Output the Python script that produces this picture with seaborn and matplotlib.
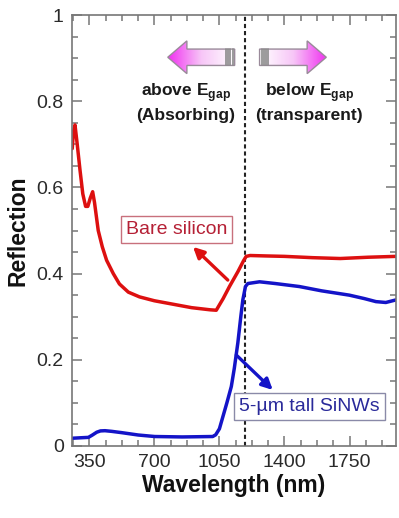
import numpy as np
import pandas as pd
import matplotlib
matplotlib.use('Agg')
import matplotlib.pyplot as plt
import seaborn as sns
from matplotlib.patches import Polygon
from matplotlib.colors import LinearSegmentedColormap
from matplotlib.ticker import MultipleLocator, FixedLocator

# ---------------- data ----------------
bare_wl = [258, 265, 273, 285, 300, 315, 330, 342, 355, 368, 378, 398, 420, 443,
           479, 512, 560, 620, 700, 800, 900, 1000, 1033, 1070, 1104, 1150, 1180,
           1194, 1215, 1300, 1400, 1550, 1700, 1850, 2000]
bare_r = [0.69, 0.73, 0.745, 0.70, 0.64, 0.585, 0.556, 0.556, 0.575, 0.59, 0.565,
          0.50, 0.462, 0.431, 0.40, 0.376, 0.357, 0.346, 0.337, 0.329, 0.321, 0.316,
          0.315, 0.342, 0.37, 0.405, 0.43, 0.44, 0.442, 0.441, 0.440, 0.437, 0.435,
          0.438, 0.44]

nw_wl = [258, 300, 345, 365, 390, 410, 434, 470, 524, 613, 702, 850, 1014, 1030,
         1050, 1070, 1090, 1114, 1130, 1149, 1165, 1176, 1190, 1203, 1266, 1350,
         1480, 1600, 1749, 1830, 1892, 1945, 2000]
nw_r = [0.018, 0.019, 0.02, 0.025, 0.032, 0.035, 0.0355, 0.034, 0.031, 0.0255,
        0.022, 0.021, 0.022, 0.026, 0.04, 0.07, 0.10, 0.138, 0.18, 0.239, 0.30,
        0.339, 0.37, 0.377, 0.381, 0.377, 0.37, 0.36, 0.35, 0.342, 0.335, 0.333,
        0.339]

x_ticks = [350, 700, 1050, 1400, 1750]
y_ticks = [0, 0.2, 0.4, 0.6, 0.8, 1.0]
y_tick_labels = ['0', '0.2', '0.4', '0.6', '0.8', '1']
band_edge = 1190

# ---------------- style ----------------
sns.set_theme(style='ticks')
plt.rcParams['font.family'] = ['Liberation Sans', 'DejaVu Sans']
plt.rcParams['mathtext.fontset'] = 'custom'
plt.rcParams['mathtext.rm'] = 'Liberation Sans'
plt.rcParams['mathtext.bf'] = 'Liberation Sans:bold'

fig = plt.figure(figsize=(3.99, 5.18), dpi=100)
ax = fig.add_axes([0.1805, 0.139, 0.812, 0.832])

df = pd.concat([
    pd.DataFrame({'wl': bare_wl, 'R': bare_r, 'sample': 'Bare silicon'}),
    pd.DataFrame({'wl': nw_wl, 'R': nw_r, 'sample': 'SiNWs'}),
])
sns.lineplot(data=df, x='wl', y='R', hue='sample',
             palette={'Bare silicon': '#dd1010', 'SiNWs': '#1414c8'},
             linewidth=2.5, legend=False, ax=ax, sort=False, estimator=None)
for ln in ax.lines:
    ln.set_solid_joinstyle('round')
    ln.set_solid_capstyle('round')

ax.axvline(band_edge, color='#222222', lw=1.5, ls=(0, (2, 1.4)), zorder=1)

XL = (257, 2000)
YL = (0, 1)
ax.set_xlim(*XL)
ax.set_ylim(*YL)
ax.xaxis.set_major_locator(FixedLocator(x_ticks))
ax.xaxis.set_minor_locator(MultipleLocator(87.5))
ax.yaxis.set_major_locator(FixedLocator(y_ticks))
ax.set_yticklabels(y_tick_labels)
ax.yaxis.set_minor_locator(MultipleLocator(0.05))

for s in ax.spines.values():
    s.set_color('#777777')
    s.set_linewidth(1.2)
    s.set_visible(True)
ax.tick_params(which='both', direction='in', top=True, right=True,
               color='#777777', width=1.1)
ax.tick_params(which='major', length=7, labelsize=14, labelcolor='#2a2a2a', pad=6)
ax.tick_params(which='minor', length=4)

ax.set_xlabel('Wavelength (nm)', fontsize=16.5, fontweight='bold', color='#111111', labelpad=2)
ax.set_ylabel('Reflection', fontsize=16.5, fontweight='bold', color='#111111', labelpad=5)

# ---------------- gradient arrows ----------------
cmap = LinearSegmentedColormap.from_list('pk', ['#ffffff', '#f7c6f7', '#f030f0'])


def grad_arrow(tail, tip, head_start, yc, body_h, head_h, stripes):
    pts = [(tail, yc - body_h), (head_start, yc - body_h), (head_start, yc - head_h),
           (tip, yc), (head_start, yc + head_h), (head_start, yc + body_h),
           (tail, yc + body_h)]
    poly = Polygon(pts, closed=True, fc='none', ec='#9a8a9a', lw=1.0, zorder=5)
    ax.add_patch(poly)
    g = np.linspace(0, 1, 256)[None, :]
    if tip < tail:
        g = g[:, ::-1]
    x0, x1 = min(tail, tip), max(tail, tip)
    im = ax.imshow(g, cmap=cmap, extent=(x0, x1, yc - head_h, yc + head_h),
                   aspect='auto', zorder=4, interpolation='bilinear')
    im.set_clip_path(poly)
    for sx in stripes:
        ax.plot([sx, sx], [yc - body_h, yc + body_h], color='#8a8a8a', lw=1.2, zorder=6)


grad_arrow(1132, 772, 875, 0.902, 0.019, 0.038, [1121, 1108, 1096, 1084])
grad_arrow(1266, 1625, 1522, 0.902, 0.019, 0.038, [1277, 1289, 1301, 1313])

ax.text(869, 0.821, r'above E$_{\mathbf{gap}}$', ha='center', va='center',
        fontsize=12.5, fontweight='bold', color='#1a1a1a')
ax.text(869, 0.768, '(Absorbing)', ha='center', va='center',
        fontsize=12.5, fontweight='bold', color='#1a1a1a')
ax.text(1534, 0.821, r'below E$_{\mathbf{gap}}$', ha='center', va='center',
        fontsize=12.5, fontweight='bold', color='#1a1a1a')
ax.text(1534, 0.768, '(transparent)', ha='center', va='center',
        fontsize=12.5, fontweight='bold', color='#1a1a1a')

# ---------------- labels with arrows ----------------
ax.text(820, 0.503, 'Bare silicon', ha='center', va='center', fontsize=14,
        color='#b52035', zorder=7,
        bbox=dict(boxstyle='square,pad=0.25', fc='white', ec='#c8707c', lw=1.0))
ax.annotate('', xy=(908, 0.462), xytext=(1095, 0.385),
            arrowprops=dict(arrowstyle='-|>', color='#dd1010', lw=2.4,
                            mutation_scale=16, shrinkA=0, shrinkB=0), zorder=7)

ax.text(1534, 0.0917, '5-\u00b5m tall SiNWs', ha='center', va='center', fontsize=14,
        color='#2a2a9a', zorder=7,
        bbox=dict(boxstyle='square,pad=0.25', fc='white', ec='#8a8aa8', lw=1.0))
ax.annotate('', xy=(1337, 0.13), xytext=(1141, 0.211),
            arrowprops=dict(arrowstyle='-|>', color='#1414c8', lw=2.4,
                            mutation_scale=16, shrinkA=0, shrinkB=0), zorder=7)

ax.set_xlim(*XL)
ax.set_ylim(*YL)

fig.savefig('out.png', dpi=100)
